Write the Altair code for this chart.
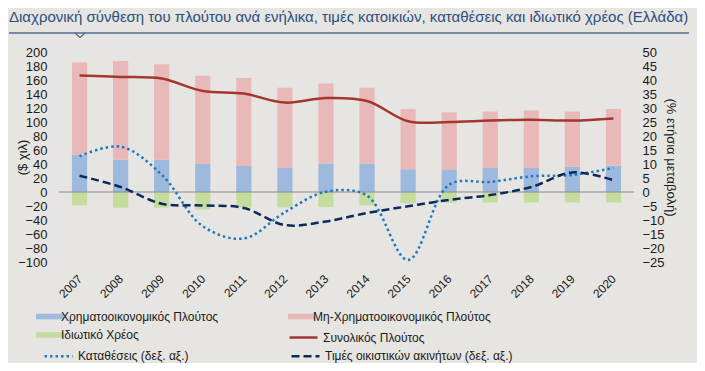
import altair as alt
import pandas as pd

# ---------------- data ----------------
years = [str(y) for y in range(2007, 2021)]
financial = [53.5, 46, 46, 40.6, 37.3, 34.4, 40.6, 40.6, 32.4, 32.4, 34.4, 34.4, 36.3, 37.7]
non_financial = [131.5, 141, 136.6, 125.4, 125.7, 114.6, 114.4, 108.4, 86.1, 81.4, 80.6, 82.2, 78.7, 80.8]
private_debt = [-19, -22.5, -22.5, -25, -22, -22, -21.5, -19, -16, -15, -15, -15, -15, -15]
total_wealth = [166.4, 164.4, 162, 144.3, 140.6, 127.7, 134.3, 130, 101, 100, 102.3, 103.3, 102, 105]
deposits = [12.8, 16.2, 6.2, -12.2, -16.6, -7.2, 0.1, -1.3, -24.3, 2.6, 3.6, 5.6, 6.1, 8.6]
house_prices = [5.8, 1.8, -4.2, -4.8, -5.7, -11.8, -10.5, -7.5, -5.1, -2.8, -1.1, 1.8, 7.0, 4.2]

left_ticks = list(range(-100, 201, 20))
right_ticks = list(range(-25, 51, 5))

S_FIN = "Χρηματοοικονομικός Πλούτος"
S_NONFIN = "Μη-Χρηματοοικονομικός Πλούτος"
S_DEBT = "Ιδιωτικό Χρέος"
S_TOTAL = "Συνολικός Πλούτος"
S_DEP = "Καταθέσεις (δεξ. αξ.)"
S_HOUSE = "Τιμές οικιστικών ακινήτων (δεξ. αξ.)"
TITLE = "Διαχρονική σύνθεση του πλούτου ανά ενήλικα, τιμές κατοικιών, καταθέσεις και ιδιωτικό χρέος (Ελλάδα)"

# ---------------- styling ----------------
BG = "#e6e5e1"
C_FIN, C_NONFIN, C_DEBT = "#9db9de", "#e9b9ba", "#c5dc9f"
C_TOTAL, C_DEP, C_HOUSE = "#a3362f", "#1f78c1", "#0d2a5c"
FONT = "Liberation Sans"
RECT = "M-2,-0.4H2V0.4H-2Z"

# ---------------- tables ----------------
bars_df = pd.DataFrame(
    [(y, S_FIN, v, 0) for y, v in zip(years, financial)]
    + [(y, S_NONFIN, v, 1) for y, v in zip(years, non_financial)]
    + [(y, S_DEBT, v, 2) for y, v in zip(years, private_debt)],
    columns=["year", "series", "value", "ord"],
)
total_df = pd.DataFrame({"year": years, "series": S_TOTAL, "value": total_wealth})
rates_df = pd.DataFrame(
    [(y, S_DEP, v) for y, v in zip(years, deposits)]
    + [(y, S_HOUSE, v) for y, v in zip(years, house_prices)],
    columns=["year", "series", "value"],
)
zero_df = pd.DataFrame({"value": [0]})

x_enc = alt.X(
    "year:N",
    sort=years,
    title=None,
    scale=alt.Scale(paddingInner=0.63, paddingOuter=0.315),
    axis=alt.Axis(labelAngle=-45, labelFontSize=12, labelPadding=11, labelOffset=-3,
                  ticks=False, domain=False, labelColor="#1a1a1a", labelFont=FONT),
)
y_left_scale = alt.Scale(domain=[-100, 200], nice=False, zero=False)
left_axis = alt.Axis(values=left_ticks, title="($ χιλ)", grid=False, ticks=False, domain=False,
                     labelOverlap=False, labelFontSize=13, labelPadding=12,
                     labelColor="#1a1a1a", labelFont=FONT,
                     titleFontSize=13, titleFontWeight="normal", titleColor="#1a1a1a",
                     titleFont=FONT, titleX=-37, titleY=105, titleAlign="center",
                     titleBaseline="middle", titleAngle=-90)

legend_common = dict(
    orient="none", title=None, labelFont=FONT, labelFontSize=12, labelColor="#1a1a1a",
    labelOffset=4, labelLimit=400,
)

bars = alt.Chart(bars_df).mark_bar().encode(
    x=x_enc,
    y=alt.Y("value:Q", stack="zero", scale=y_left_scale, axis=left_axis),
    fill=alt.Fill(
        "series:N",
        scale=alt.Scale(domain=[S_FIN, S_DEBT, S_NONFIN], range=[C_FIN, C_DEBT, C_NONFIN]),
        legend=alt.Legend(columns=2, columnPadding=69, legendX=-16, legendY=257.5,
                          symbolType=RECT, symbolSize=196, symbolStrokeWidth=0,
                          rowPadding=5.5, **legend_common),
    ),
    order=alt.Order("ord:Q"),
)

zero = alt.Chart(zero_df).mark_rule(color="#8c8c8c", strokeWidth=1.2).encode(
    y=alt.Y("value:Q", scale=y_left_scale, axis=left_axis)
)

total = alt.Chart(total_df).mark_line(interpolate="catmull-rom", strokeWidth=2.5).encode(
    x=x_enc,
    y=alt.Y("value:Q", scale=y_left_scale, axis=left_axis),
    stroke=alt.Stroke(
        "series:N",
        scale=alt.Scale(domain=[S_TOTAL], range=[C_TOTAL]),
        legend=alt.Legend(legendX=229, legendY=270, symbolType="stroke", symbolSize=784,
                          symbolStrokeWidth=2.5, **legend_common),
    ),
)

# title underline with the small notch (decoration)
underline = alt.Chart(zero_df).mark_rule(color="#4f6b91", strokeWidth=1.5).encode(
    x=alt.value(-50), x2=alt.value(630), y=alt.value(-19)
)
notch_a = alt.Chart(zero_df).mark_rule(color="#4f6b91", strokeWidth=1.2).encode(
    x=alt.value(16), x2=alt.value(21), y=alt.value(-19), y2=alt.value(-14.5)
)
notch_b = alt.Chart(zero_df).mark_rule(color="#4f6b91", strokeWidth=1.2).encode(
    x=alt.value(21), x2=alt.value(26), y=alt.value(-14.5), y2=alt.value(-19)
)

left = alt.layer(bars, zero, total, underline, notch_a, notch_b)

rate_legend = alt.Legend(columns=2, columnPadding=97, legendX=-16, legendY=288.5,
                         symbolType="stroke", symbolSize=784, symbolStrokeWidth=2.5,
                         **legend_common)
rates = alt.Chart(rates_df).mark_line(interpolate="catmull-rom", strokeWidth=2.5).encode(
    x=x_enc,
    y=alt.Y(
        "value:Q", scale=alt.Scale(domain=[-25, 50], nice=False, zero=False),
        axis=alt.Axis(orient="right", values=right_ticks, title="(% ετήσια μεταβολή)", grid=False,
                      ticks=False, domain=False, labelOverlap=False, labelFontSize=13,
                      labelPadding=8, labelColor="#1a1a1a", labelFont=FONT, titleFontSize=13,
                      titleFontWeight="normal", titleColor="#1a1a1a", titleFont=FONT,
                      titleX=36, titleY=105, titleAlign="center", titleBaseline="middle",
                      titleAngle=90),
    ),
    stroke=alt.Stroke("series:N", scale=alt.Scale(domain=[S_DEP, S_HOUSE], range=[C_DEP, C_HOUSE]),
                      legend=rate_legend),
    strokeDash=alt.StrokeDash("series:N", scale=alt.Scale(domain=[S_DEP, S_HOUSE],
                                                          range=[[2.5, 3], [8, 4]]),
                              legend=rate_legend),
)

chart = (
    alt.layer(left, rates)
    .resolve_scale(y="independent", stroke="independent", strokeDash="independent")
    .properties(
        width=575,
        height=210,
        padding={"left": 51, "top": 44, "right": 63, "bottom": 101},
        autosize=alt.AutoSizeParams(type="none"),
        background=BG,
        title=alt.TitleParams(TITLE, anchor="start", frame="group", dx=-50, offset=7,
                              fontSize=15, font=FONT, fontWeight="normal", color="#2b4f80"),
    )
    .configure_view(stroke=None)
)

chart.save("out.html", embed_options={"renderer": "svg", "actions": False})
